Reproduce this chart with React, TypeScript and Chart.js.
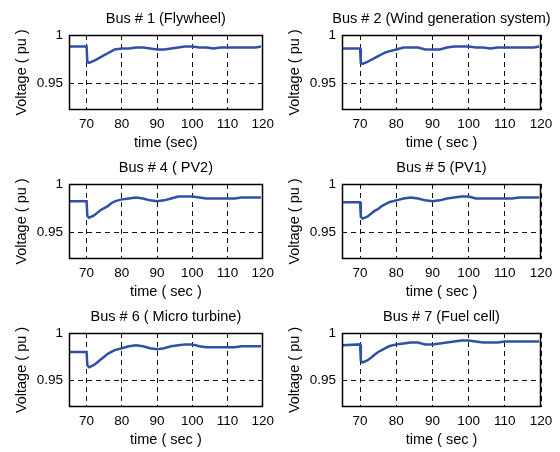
import React, { useEffect, useRef } from "react";
import { Chart, registerables } from "chart.js";

Chart.register(...registerables);

// ---- data ----
const timeSec = [65, 70, 70.2, 70.7, 72, 73, 74, 75, 76, 77, 78, 80, 82, 84, 86, 88, 90, 92, 94, 96, 98, 100, 102, 104, 106, 108, 110, 112, 114, 116, 118, 119.5];

const bus1Flywheel = [0.988, 0.988, 0.972, 0.971, 0.973, 0.975, 0.977, 0.979, 0.981, 0.983, 0.985, 0.986, 0.986, 0.987, 0.987, 0.986, 0.985, 0.985, 0.986, 0.987, 0.988, 0.988, 0.987, 0.987, 0.986, 0.987, 0.987, 0.987, 0.987, 0.987, 0.987, 0.988];
const bus2Wind = [0.986, 0.986, 0.971, 0.970, 0.972, 0.974, 0.976, 0.978, 0.980, 0.982, 0.983, 0.985, 0.987, 0.987, 0.987, 0.985, 0.985, 0.985, 0.987, 0.988, 0.988, 0.988, 0.987, 0.987, 0.986, 0.987, 0.987, 0.987, 0.987, 0.987, 0.987, 0.988];
const bus4PV2 = [0.982, 0.982, 0.967, 0.965, 0.967, 0.970, 0.973, 0.975, 0.977, 0.980, 0.982, 0.984, 0.985, 0.986, 0.985, 0.983, 0.982, 0.983, 0.985, 0.987, 0.987, 0.987, 0.986, 0.985, 0.985, 0.985, 0.985, 0.985, 0.986, 0.986, 0.986, 0.986];
const bus5PV1 = [0.981, 0.981, 0.966, 0.964, 0.966, 0.969, 0.972, 0.974, 0.977, 0.979, 0.981, 0.983, 0.985, 0.986, 0.985, 0.983, 0.982, 0.983, 0.985, 0.986, 0.987, 0.987, 0.985, 0.985, 0.985, 0.985, 0.985, 0.985, 0.986, 0.986, 0.986, 0.986];
const bus6MicroTurbine = [0.980, 0.980, 0.966, 0.964, 0.966, 0.969, 0.972, 0.975, 0.978, 0.980, 0.982, 0.984, 0.986, 0.987, 0.986, 0.984, 0.983, 0.984, 0.986, 0.987, 0.988, 0.988, 0.986, 0.985, 0.985, 0.985, 0.985, 0.985, 0.986, 0.986, 0.986, 0.986];
const bus7FuelCell = [0.987, 0.988, 0.971, 0.969, 0.971, 0.974, 0.977, 0.980, 0.982, 0.984, 0.986, 0.988, 0.989, 0.990, 0.990, 0.988, 0.988, 0.989, 0.990, 0.991, 0.992, 0.992, 0.991, 0.990, 0.990, 0.990, 0.991, 0.991, 0.991, 0.991, 0.991, 0.991];

const panelTitles = [
  "Bus # 1 (Flywheel)",
  "Bus # 2 (Wind generation system)",
  "Bus # 4 ( PV2)",
  "Bus # 5 (PV1)",
  "Bus # 6 ( Micro turbine)",
  "Bus # 7 (Fuel cell)",
];
const xAxisLabels = ["time (sec)", "time ( sec )", "time ( sec )", "time ( sec )", "time ( sec )", "time ( sec )"];
const yAxisLabel = "Voltage ( pu )";
const xTicks = [70, 80, 90, 100, 110, 120];
const yTicks = [0.95, 1];
const xRange = [65, 120];
const yRange = [0.922, 1];

const seriesList = [bus1Flywheel, bus2Wind, bus4PV2, bus5PV1, bus6MicroTurbine, bus7FuelCell];

// ---- layout (page pixels) ----
const colX = [0, 280];
const colPlot = [
  [69, 268],
  [342, 541],
];
const rowPlot = [
  [35, 110],
  [184, 259],
  [333, 407],
];

const FONT = '"Liberation Sans", Arial, Helvetica, sans-serif';
const LINE_COLOR = "#3050a8";

const framePlugin = {
  id: "frameTitle",
  afterDatasetsDraw(chart: any, _args: any, opts: any) {
    const { ctx, chartArea } = chart;
    const { left, top, right, bottom } = chartArea;
    ctx.save();
    ctx.strokeStyle = "#000";
    ctx.lineWidth = 1.5;
    ctx.setLineDash([]);
    const l = Math.round(left) + 0.5;
    const t = Math.round(top) + 0.5;
    const r = Math.round(right) - 0.5;
    const b = Math.round(bottom) - 0.5;
    ctx.strokeRect(l, t, r - l, b - t);
    ctx.fillStyle = "#000";
    ctx.font = `14.5px ${FONT}`;
    ctx.textAlign = "center";
    ctx.textBaseline = "middle";
    ctx.fillText(opts.text, (left + right) / 2, top - 16);
    ctx.restore();
  },
};

function Panel({ idx }: { idx: number }) {
  const ref = useRef<HTMLCanvasElement | null>(null);
  const row = Math.floor(idx / 2);
  const col = idx % 2;
  const [pl, pr] = colPlot[col];
  const [pt, pb] = rowPlot[row];
  const cx = colX[col];
  const topSpace = 36;
  const bottomSpace = 45;
  const width = 280;
  const height = pb - pt + topSpace + bottomSpace;
  const yAxisWidth = pl - cx;
  const rightPad = cx + width - pr;

  useEffect(() => {
    if (!ref.current) return;
    const values = seriesList[idx];
    const points = timeSec.map((t, i) => ({ x: t, y: values[i] }));
    const chart = new Chart(ref.current, {
      type: "line",
      data: {
        datasets: [
          {
            data: points,
            borderColor: LINE_COLOR,
            borderWidth: 2.5,
            pointRadius: 0,
            tension: 0,
            fill: false,
          },
        ],
      },
      options: {
        animation: false,
        responsive: false,
        maintainAspectRatio: false,
        devicePixelRatio: 1,
        layout: { padding: { top: topSpace, left: 0, right: rightPad, bottom: 0 } },
        plugins: {
          legend: { display: false },
          tooltip: { enabled: false },
          title: { display: false },
          frameTitle: { text: panelTitles[idx] },
        } as any,
        scales: {
          x: {
            type: "linear",
            min: xRange[0],
            max: xRange[1],
            afterBuildTicks: (s: any) => {
              s.ticks = xTicks.map((v) => ({ value: v }));
            },
            afterFit: (s: any) => {
              s.height = bottomSpace;
            },
            ticks: {
              color: "#000",
              font: { size: 13.5, family: FONT },
              padding: 6,
              maxRotation: 0,
              autoSkip: false,
              callback: (v: any) => String(v),
            },
            grid: { color: "#111", lineWidth: 1, drawTicks: false },
            border: { display: false, dash: [5, 4] },
            title: {
              display: true,
              text: xAxisLabels[idx],
              color: "#000",
              font: { size: 14.5, family: FONT },
              padding: { top: 0, bottom: 3 },
            },
          },
          y: {
            type: "linear",
            min: yRange[0],
            max: yRange[1],
            afterBuildTicks: (s: any) => {
              s.ticks = yTicks.map((v) => ({ value: v }));
            },
            afterFit: (s: any) => {
              s.width = yAxisWidth;
            },
            ticks: {
              color: "#000",
              font: { size: 13.5, family: FONT },
              padding: 6,
              autoSkip: false,
              callback: (v: any) => String(v),
            },
            grid: { color: "#111", lineWidth: 1, drawTicks: false },
            border: { display: false, dash: [5, 4] },
            title: {
              display: true,
              text: yAxisLabel,
              color: "#000",
              font: { size: 14.5, family: FONT },
              padding: { top: yAxisWidth - 47.5 - 8.7, bottom: 0 },
            },
          },
        },
      },
      plugins: [framePlugin as any],
    });
    return () => chart.destroy();
  }, [idx]);

  return (
    <canvas
      ref={ref}
      width={width}
      height={height}
      style={{ position: "absolute", left: cx, top: pt - topSpace, width, height }}
    />
  );
}

export default function App() {
  return (
    <div
      style={{
        position: "absolute",
        left: 0,
        top: 0,
        width: 560,
        height: 452,
        background: "#fff",
        overflow: "hidden",
      }}
    >
      {[0, 1, 2, 3, 4, 5].map((i) => (
        <Panel key={i} idx={i} />
      ))}
    </div>
  );
}
